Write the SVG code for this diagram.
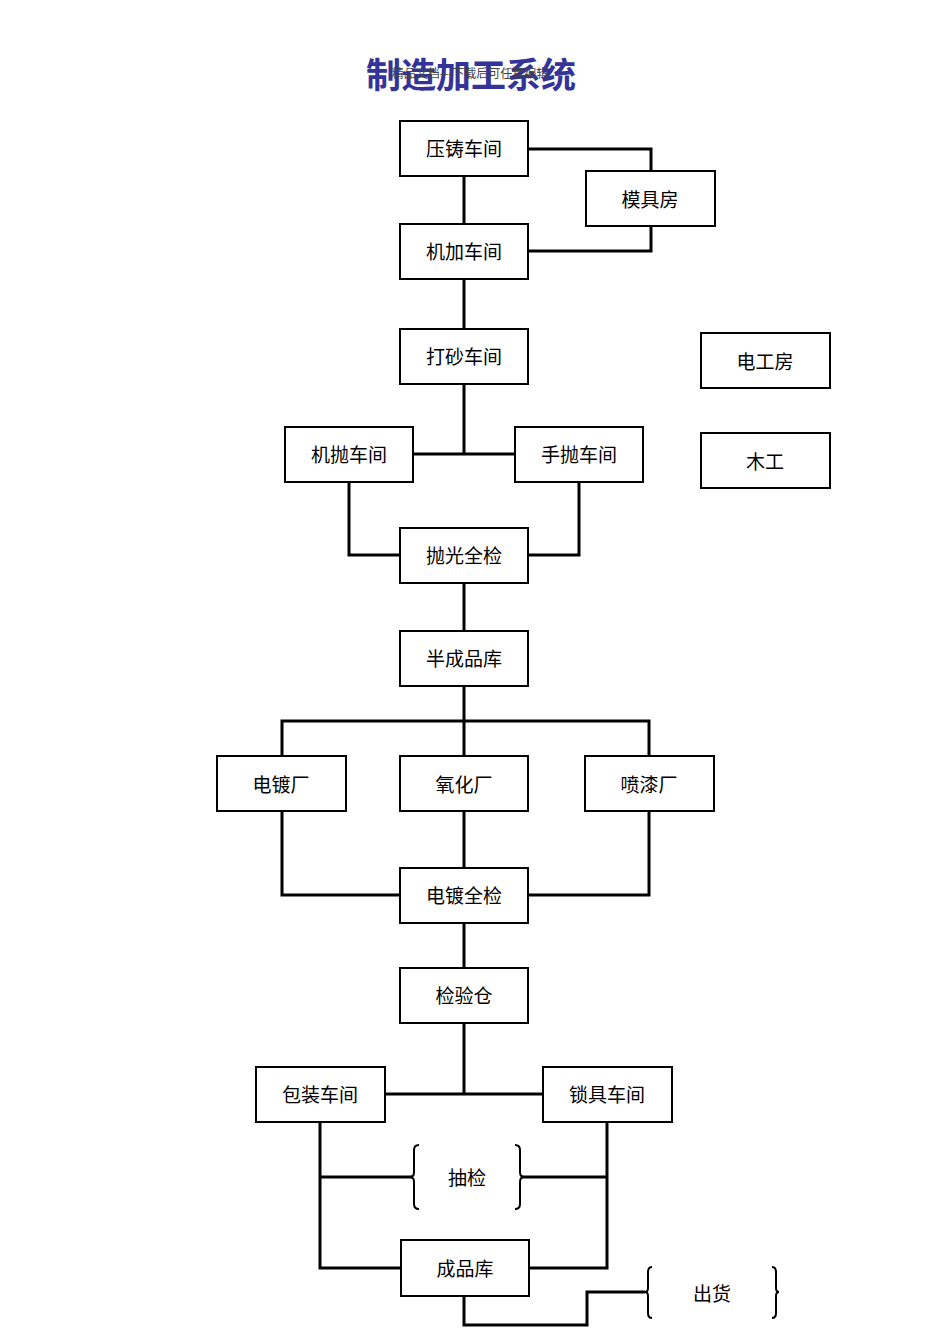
<svg xmlns="http://www.w3.org/2000/svg" width="950" height="1344" viewBox="0 0 950 1344">
<style>
.n rect{fill:#fff;stroke:#000;stroke-width:2}
.n text,.t{font-family:"Noto Sans CJK SC",sans-serif;font-size:19px;text-anchor:middle;fill:#000}
#edges path{fill:none;stroke:#000;stroke-width:3}
.br{fill:none;stroke:#000;stroke-width:2}
</style>
<rect width="950" height="1344" fill="#fff"/>
<text x="471" y="88" font-family="Noto Sans CJK SC,sans-serif" font-size="35" font-weight="bold" fill="#333399" text-anchor="middle">制造加工系统</text>
<text x="470" y="78" font-family="Noto Sans CJK SC,serif" font-size="12" fill="#444" text-anchor="middle">精品文档---下载后可任意编辑</text>
<g id="edges">
<path d="M528,149H651V171M651,226V251H528"/>
<path d="M464,176V224M464,279V329M464,384V454M413,454H515"/>
<path d="M349,482V555H400M579,482V555H528M464,583V631M464,686V756M282,756V721H649V756"/>
<path d="M282,811V895H400M464,811V868M649,811V895H528M464,923V968M464,1023V1094M385,1094H543"/>
<path d="M320,1122V1268H401M320,1177H413M522,1177H607M607,1122V1268H529"/>
<path d="M464,1296V1325H587V1292H645"/>
</g>
<g id="n1" class="n"><rect x="400" y="121" width="128" height="55"/><text x="464" y="156">压铸车间</text></g>
<g id="n2" class="n"><rect x="586" y="171" width="129" height="55"/><text x="650" y="207">模具房</text></g>
<g id="n3" class="n"><rect x="400" y="224" width="128" height="55"/><text x="464" y="259">机加车间</text></g>
<g id="n4" class="n"><rect x="400" y="329" width="128" height="55"/><text x="464" y="364">打砂车间</text></g>
<g id="n5" class="n"><rect x="701" y="333" width="129" height="55"/><text x="765" y="369">电工房</text></g>
<g id="n6" class="n"><rect x="285" y="427" width="128" height="55"/><text x="349" y="462">机抛车间</text></g>
<g id="n7" class="n"><rect x="515" y="427" width="128" height="55"/><text x="579" y="462">手抛车间</text></g>
<g id="n8" class="n"><rect x="701" y="433" width="129" height="55"/><text x="765" y="469">木工</text></g>
<g id="n9" class="n"><rect x="400" y="528" width="128" height="55"/><text x="464" y="563">抛光全检</text></g>
<g id="n10" class="n"><rect x="400" y="631" width="128" height="55"/><text x="464" y="666">半成品库</text></g>
<g id="n11" class="n"><rect x="217" y="756" width="129" height="55"/><text x="281" y="792">电镀厂</text></g>
<g id="n12" class="n"><rect x="400" y="756" width="128" height="55"/><text x="464" y="792">氧化厂</text></g>
<g id="n13" class="n"><rect x="585" y="756" width="129" height="55"/><text x="649" y="792">喷漆厂</text></g>
<g id="n14" class="n"><rect x="400" y="868" width="128" height="55"/><text x="464" y="903">电镀全检</text></g>
<g id="n15" class="n"><rect x="400" y="968" width="128" height="55"/><text x="464" y="1003">检验仓</text></g>
<g id="n16" class="n"><rect x="256" y="1067" width="129" height="55"/><text x="320" y="1102">包装车间</text></g>
<g id="n17" class="n"><rect x="543" y="1067" width="129" height="55"/><text x="607" y="1102">锁具车间</text></g>
<g id="n18" class="n"><rect x="401" y="1240" width="128" height="56"/><text x="465" y="1276">成品库</text></g>
<g id="n19">
<path class="br" d="M419,1145Q414,1145 414,1150V1172Q414,1177 410,1177Q414,1177 414,1182V1204Q414,1209 419,1209"/>
<path class="br" d="M515,1145Q520,1145 520,1150V1172Q520,1177 524,1177Q520,1177 520,1182V1204Q520,1209 515,1209"/>
<text class="t" x="467" y="1185">抽检</text></g>
<g id="n20">
<path class="br" d="M652,1267Q648,1267 648,1272V1288Q648,1292 645,1292Q648,1292 648,1296V1313Q648,1318 652,1318"/>
<path class="br" d="M772,1267Q776,1267 776,1272V1288Q776,1292 779,1292Q776,1292 776,1296V1313Q776,1318 772,1318"/>
<text class="t" x="712" y="1301">出货</text></g>
</svg>
